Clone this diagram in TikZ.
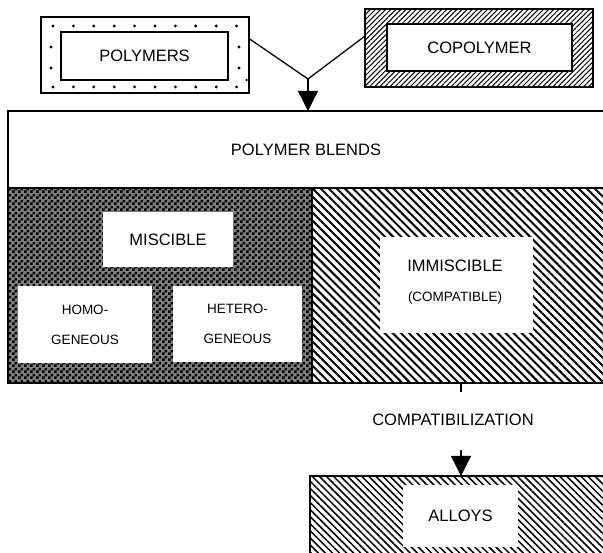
\documentclass[tikz,border=0pt]{standalone}
\usepackage{fontspec}
\setmainfont{Liberation Sans}
\usetikzlibrary{patterns,patterns.meta,arrows.meta}
\pgfdeclarepatternformonly{checker}{\pgfpointorigin}{\pgfpoint{6pt}{6pt}}{\pgfpoint{6pt}{6pt}}{%
  \pgfpathrectangle{\pgfpointorigin}{\pgfpoint{3pt}{3pt}}%
  \pgfpathrectangle{\pgfpoint{3pt}{3pt}}{\pgfpoint{3pt}{3pt}}%
  \pgfusepath{fill}}
\tikzset{
  box/.style={rectangle, inner sep=0pt, outer sep=0pt, anchor=north west},
  big/.style={font=\fontsize{16.5}{18}\selectfont},
  small/.style={font=\fontsize{13.5}{30}\selectfont, align=center},
  conn/.style={line width=1.3pt},
  bigarrow/.style={line width=1.3pt, -{Triangle[width=20pt,length=20pt]}},
}
\begin{document}
\begin{tikzpicture}[x=1pt,y=-1pt]
\useasboundingbox (0,0) rectangle (603,553);
\begin{scope}
\clip (0,0) rectangle (603,553);
% POLYMERS
\node[box, draw, line width=1.2pt, minimum width=208pt, minimum height=76pt] (pouter) at (41,17) {};
\node[box, draw, line width=1.2pt, minimum width=167pt, minimum height=48pt, big] (pinner) at (61,32) {POLYMERS};
\foreach \k in {0,...,9} {
  \fill (53+20.4*\k,26) circle (1.6pt);
  \fill (53+20.4*\k,87) circle (1.6pt);
  \fill (63+20.4*\k,80) circle (1.2pt);
  \fill (45+20.4*\k,93) circle (1.2pt);
}
\foreach \yy in {47,68} {
  \fill (51,\yy) circle (1.6pt);
  \fill (239,\yy) circle (1.6pt);
  \fill (41,\yy-8) circle (1.2pt);
}
% COPOLYMER
\node[box, draw, line width=1.5pt, minimum width=228pt, minimum height=78pt,
      pattern={Lines[angle=45,distance=3.6pt,line width=1pt]}] (couter) at (365,9) {};
\node[box, draw, line width=1.2pt, fill=white, minimum width=185pt, minimum height=47pt, big] (cinner) at (387,24) {COPOLYMER};
% POLYMER BLENDS
\node[box, draw, line width=2pt, minimum width=620pt, minimum height=77pt] (blends) at (8,111) {};
\node[big] (blendstxt) at (306,150) {POLYMER BLENDS};
% merge arrow
\coordinate (m) at (308,79);
\draw[conn] (pouter.9) -- (m) -- (couter.174);
\draw[bigarrow] (m) -- (m |- blends.north);
% lower regions
\node[box, draw, line width=2pt, minimum width=304pt, minimum height=195pt,
      fill=black!50, postaction={pattern=checker}] (misreg) at (8,188) {};
\node[box, draw, line width=2pt, minimum width=308pt, minimum height=195pt,
      pattern={Lines[angle=-45,distance=5.7pt,line width=2pt]}] (immreg) at (312,188) {};
\node[box, fill=white, minimum width=130pt, minimum height=55pt, big] (misc) at (103,212) {MISCIBLE};
\node[box, fill=white, minimum width=134pt, minimum height=77pt, small] (homo) at (18,286) {HOMO-\\GENEOUS};
\node[box, fill=white, minimum width=129pt, minimum height=76pt, small] (hetero) at (173,286) {HETERO-\\GENEOUS};
\node[box, fill=white, minimum width=153pt, minimum height=96pt] (imm) at (380,237) {};
\node[big] (immtxt) at (455,266) {IMMISCIBLE};
\node[font=\fontsize{13.5}{15}\selectfont] (comptxt) at (455,298) {(COMPATIBLE)};
% compatibilization
\node[big] (comp) at (453,420) {COMPATIBILIZATION};
\coordinate (t1) at (461,392);
\draw[line width=1.5pt] (t1 |- immreg.south) -- (t1);
\coordinate (a1) at (461,450);
% ALLOYS
\node[box, draw, line width=1.5pt, minimum width=310pt, minimum height=100pt,
      pattern={Lines[angle=-45,distance=5pt,line width=1.5pt]}] (alloys) at (310,476) {};
\node[box, fill=white, minimum width=115pt, minimum height=62pt, big] (alloystxt) at (403,485) {ALLOYS};
\draw[bigarrow] (a1) -- (a1 |- alloys.north);
\end{scope}
\end{tikzpicture}
\end{document}
